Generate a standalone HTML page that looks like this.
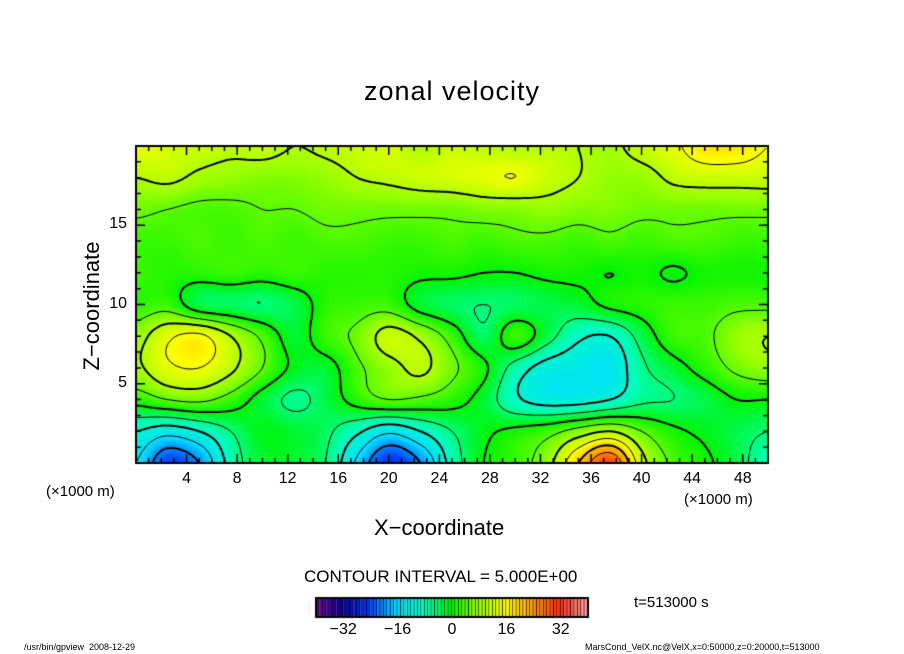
<!DOCTYPE html>
<html><head><meta charset="utf-8"><style>
body{margin:0;background:#fff;width:904px;height:654px;overflow:hidden;font-family:"Liberation Sans",sans-serif}
.t{position:absolute;white-space:nowrap;color:#000}
</style></head><body>
<div style="position:relative;width:904px;height:654px">
<div class="t" style="left:0;width:904px;text-align:center;top:76px;font-size:27px;letter-spacing:1px">zonal velocity</div>
<canvas id="cv" width="904" height="654" style="position:absolute;left:0;top:0"></canvas>
<div class="t" style="left:374px;top:515px;font-size:22px">X−coordinate</div>
<div class="t" style="left:-8px;top:293px;font-size:22px;transform:rotate(-90deg);width:200px;text-align:center">Z−coordinate</div>
<div class="t" style="left:46px;top:483px;font-size:15px">(×1000 m)</div>
<div class="t" style="left:684px;top:491px;font-size:15px">(×1000 m)</div>
<div class="t" style="left:304px;top:567px;font-size:17px">CONTOUR INTERVAL = 5.000E+00</div>
<div class="t" style="left:634px;top:594px;font-size:15px">t=513000 s</div>
<div class="t" style="left:24px;top:642px;font-size:9px">/usr/bin/gpview &nbsp;2008-12-29</div>
<div class="t" style="left:585px;top:642px;font-size:9px">MarsCond_VelX.nc@VelX,x=0:50000,z=0:20000,t=513000</div>
<div id="labels"></div>
</div>
<script>
const xCoords=[0,2.5,5,7.5,10,12.5,15,17.5,20,22.5,25,27.5,30,32.5,35,37.5,40,42.5,45,47.5,50];
const zCoords=[0,2,4,6,8,10,12,14,16,18,20];
const row0=[-15,-24,-20,-8,-2,-2,-5,-16,-25,-20,-8,0,3,8,20,30,12,4,1,-3,-8];
const row2=[-10,-13,-10,-5,-1,-2,-4,-9,-14,-10,-5,-1,1,3,7,10,5,1,-1,-3,-5];
const row4=[2,5,6,3,-2,-6,-3,2,5,4,2,-2,-9,-12,-12,-10,-6,-5,-3,0,0];
const row6=[9,14,15,11,5,-1,-2,4,8,11,6,1,-7,-12,-13,-14,-6,-2,2,6,8];
const row8=[8,14,16,10,4,-2,3,6,12,9,3,-4,3,-3,-9,-10,-3,3,4,8,10];
const row10=[2,3,-3,-4,-5,-3,2,3,3,-2,-4,-5,-4,-3,-2,1,2,3,3,4,4];
const row12=[3,2,2,3,2,3,2,2,2,1,1,0,0,1,1,0,1,-0.5,1,1,1];
const row14=[3,3,4,3,4,3,4,4,3,3,4,3,4,4,3,4,3,4,4,3,3];
const row16=[6,5,4,4,5,5,6,6,6,6,6,7,7,8,7,7,6,6,6,6,6];
const row18=[10,11,9,8,7,7,8,10,11,12,13,14,15,12,10,8,8,11,12,12,12];
const row20=[15,13,12,11,12,10,11,12,13,10,12,11,10,11,10,9,12,14,18,18,15];
const rows=[row0,row2,row4,row6,row8,row10,row12,row14,row16,row18,row20];
const xTicks=[4,8,12,16,20,24,28,32,36,40,44,48];
const zTicks=[5,10,15];
const cbTicks=[-32,-16,0,16,32];
const levels=[-30,-25,-20,-15,-10,-5,0,5,10,15,20,25,30];

const L=136,R=768,T=146,B=463;
const sx=x=>L+(x-0)/(50-0)*(R-L);
const sz=z=>B-(z-0)/(20-0)*(B-T);
const CB0=316,CB1=588;
const scb=v=>CB0+(v+40)/80*(CB1-CB0);

const stops=[[-40,[110,0,150]],[-32,[10,0,150]],[-24,[0,60,255]],[-16,[0,220,255]],[-8,[0,255,190]],[0,[0,245,0]],[8,[150,255,0]],[16,[255,255,0]],[24,[255,150,0]],[32,[255,40,20]],[40,[255,160,160]]];
function col(v){v=Math.max(-40,Math.min(40,v));for(let i=0;i<stops.length-1;i++){const a=stops[i],b=stops[i+1];if(v<=b[0]){const t=(v-a[0])/(b[0]-a[0]);return a[1].map((c,k)=>Math.round(c+(b[1][k]-c)*t));}}return stops[stops.length-1][1];}
function cr(p0,p1,p2,p3,t){return 0.5*((2*p1)+(-p0+p2)*t+(2*p0-5*p1+4*p2-p3)*t*t+(-p0+3*p1-3*p2+p3)*t*t*t);}
function field(x,z){
  let fi=x/2.5,fj=z/2;let i=Math.min(Math.floor(fi),xCoords.length-2),j=Math.min(Math.floor(fj),zCoords.length-2);
  const tx=fi-i,tz=fj-j;const g=(a,b)=>rows[Math.max(0,Math.min(zCoords.length-1,b))][Math.max(0,Math.min(xCoords.length-1,a))];
  const r=[];for(let b=-1;b<=2;b++)r.push(cr(g(i-1,j+b),g(i,j+b),g(i+1,j+b),g(i+2,j+b),tx));
  return cr(r[0],r[1],r[2],r[3],tz);
}
const cv=document.getElementById('cv'),ctx=cv.getContext('2d');
const img=ctx.createImageData(R-L,B-T);
for(let py=0;py<B-T;py++)for(let px=0;px<R-L;px++){
  const v=field((px+0.5)/(R-L)*50,(B-T-py-0.5)/(B-T)*20);const c=col(v);const o=(py*(R-L)+px)*4;
  img.data[o]=c[0];img.data[o+1]=c[1];img.data[o+2]=c[2];img.data[o+3]=255;}
ctx.putImageData(img,L,T);
const step=3,nx=Math.ceil((R-L)/step),nz=Math.ceil((B-T)/step);
const F=[];for(let j=0;j<=nz;j++){F.push([]);for(let i=0;i<=nx;i++){F[j].push(field(Math.min(i*step,R-L)/(R-L)*50,20-Math.min(j*step,B-T)/(B-T)*20));}}
levels.forEach(lv=>{
  ctx.beginPath();ctx.lineWidth=(lv%10===0)?2:1;ctx.strokeStyle='#000';ctx.setLineDash(lv<0?[4,3]:[]);
  for(let j=0;j<nz;j++)for(let i=0;i<nx;i++){
    const a=F[j][i],b=F[j][i+1],c=F[j+1][i+1],d=F[j+1][i];const pts=[];
    const x0=L+i*step,y0=T+j*step;
    const e=(p,q,P,Q)=>{if((p-lv)*(q-lv)<0){const t=(lv-p)/(q-p);pts.push([P[0]+(Q[0]-P[0])*t,P[1]+(Q[1]-P[1])*t]);}};
    e(a,b,[x0,y0],[x0+step,y0]);e(b,c,[x0+step,y0],[x0+step,y0+step]);e(c,d,[x0+step,y0+step],[x0,y0+step]);e(d,a,[x0,y0+step],[x0,y0]);
    for(let k=0;k+1<pts.length;k+=2){ctx.moveTo(Math.min(R,pts[k][0]),Math.min(B,pts[k][1]));ctx.lineTo(Math.min(R,pts[k+1][0]),Math.min(B,pts[k+1][1]));}
  }
  ctx.stroke();});
ctx.setLineDash([]);
ctx.lineWidth=2;ctx.strokeRect(L,T,R-L,B-T);ctx.lineWidth=1.5;ctx.beginPath();
for(let x=1;x<50;x++){const len=(x%4===0)?9:5;ctx.moveTo(sx(x),B);ctx.lineTo(sx(x),B-len);ctx.moveTo(sx(x),T);ctx.lineTo(sx(x),T+len);}
for(let z=1;z<20;z++){const len=(z%5===0)?9:5;ctx.moveTo(L,sz(z));ctx.lineTo(L+len,sz(z));ctx.moveTo(R,sz(z));ctx.lineTo(R-len,sz(z));}
ctx.stroke();
for(let v=-40;v<40;v++){const c=col(v+0.5);ctx.fillStyle=`rgb(${c})`;ctx.fillRect(scb(v),598,scb(v+1)-scb(v),19);ctx.fillStyle='#000';ctx.fillRect(scb(v+1)-0.8,598,0.8,19);}
ctx.lineWidth=2;ctx.strokeRect(CB0,598,CB1-CB0,19);
const lab=document.getElementById('labels');
function addLabel(txt,x,y,name,size){const d=document.createElement('div');d.className='t';d.textContent=txt;d.style.left=(x-30)+'px';d.style.width='60px';d.style.textAlign='center';d.style.top=y+'px';d.style.fontSize=size+'px';


lab.appendChild(d);}
xTicks.forEach(x=>addLabel(String(x),sx(x),470,'x-tick-label',16));
zTicks.forEach(z=>{const d=document.createElement('div');d.className='t';d.textContent=String(z);d.style.left='80px';d.style.width='47px';d.style.textAlign='right';d.style.top=(sz(z)-10)+'px';d.style.fontSize='16px';


lab.appendChild(d);});
cbTicks.forEach(v=>addLabel(v<0?'−'+(-v):String(v),scb(v),621,'colorbar-tick-label',16));
</script>
</body></html>
